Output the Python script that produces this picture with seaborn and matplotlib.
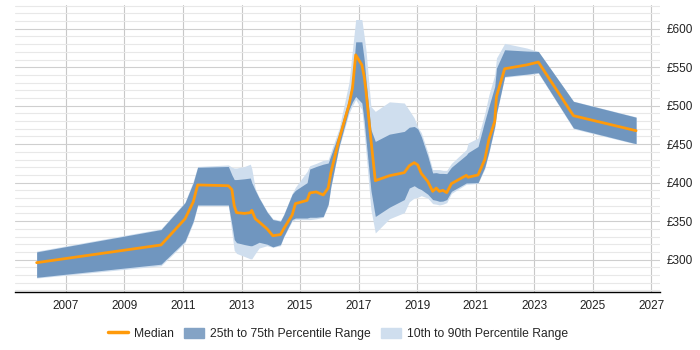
import pandas as pd
import matplotlib
matplotlib.use("Agg")
import matplotlib.pyplot as plt
import seaborn as sns
from matplotlib.lines import Line2D
from matplotlib.patches import Patch
from matplotlib.ticker import MultipleLocator, FuncFormatter

# values (year, then GBP per day)
years = [2006.0, 2010.25, 2011.07, 2011.35, 2011.5, 2012.55, 2012.67, 2012.75, 2012.83, 2013.1,
         2013.3, 2013.35, 2013.47, 2013.6, 2013.87, 2014.07, 2014.33, 2014.44, 2014.73, 2014.84,
         2015.24, 2015.33, 2015.55, 2015.79, 2015.96, 2016.05, 2016.33, 2016.67, 2016.79, 2016.9,
         2017.11, 2017.19, 2017.25, 2017.42, 2017.57, 2018.05, 2018.56, 2018.73, 2018.9, 2019.02,
         2019.14, 2019.36, 2019.53, 2019.65, 2019.76, 2019.88, 2020.01, 2020.17, 2020.68, 2020.74,
         2021.08, 2021.31, 2021.45, 2021.65, 2021.71, 2021.99, 2022.74, 2023.14, 2024.34, 2026.48]
median = [296, 319, 353, 375, 397, 396, 391, 370, 361, 360,
          361, 364, 353, 349, 340, 331, 332.5, 340, 358, 372.7,
          377, 386.6, 388, 384, 393, 412.6, 456, 501, 523, 566,
          553, 538, 520, 456, 402.6, 409, 413, 422, 426, 423,
          412, 401.7, 388.7, 393, 388.7, 390, 387, 398.7, 409.5, 407,
          410, 430, 456, 479.6, 512, 548, 553, 556.7, 487, 467.5]
p25 = [277, 294, 324, 350, 371, 371, 345, 326, 322, 319.5,
       318, 318, 320, 322.5, 320, 316.5, 319.5, 330, 352, 354,
       354, 355, 355, 356, 372, 395, 447, 494.8, 505, 512,
       503.5, 480, 456, 390, 356, 368, 378, 393, 396, 393,
       391, 385, 378, 377, 375.7, 376, 378, 388.7, 399.6, 399.6,
       400, 420, 440, 473, 490, 538, 541, 543, 471, 450.6]
p75 = [310, 339, 374, 400, 420, 421, 410, 404, 404, 405,
       406, 400, 390, 380, 362, 352, 350, 358, 385, 390,
       400, 417.7, 421, 424, 425.5, 435, 464.5, 510, 533.8, 583,
       583, 560, 534, 469, 453.6, 463, 466.6, 472, 473, 470,
       460, 435, 412.6, 413, 412, 412, 411.7, 420, 436, 439,
       447, 480, 499, 525, 549, 572.7, 571, 570.5, 505.6, 485]
p10 = [276, 292, 322, 348, 370, 370, 335, 312, 308, 304,
       301, 301, 308, 315, 318, 316, 318, 329, 350, 352,
       352, 352, 353, 355, 370, 393, 445, 490, 500, 508,
       495, 465, 440, 365, 334.6, 353, 361, 375, 380, 381,
       383, 380, 372.7, 372, 371, 372, 374, 386, 398, 398,
       399, 418, 438, 471, 488, 537, 540, 542, 470, 450]
p90 = [311, 340, 375, 402, 421, 423, 420, 419, 419, 421,
       424, 418, 392, 381, 363, 353, 351, 359, 386, 394,
       414.7, 422, 425, 429, 430, 440, 470, 530, 572.7, 612,
       612, 590, 572.7, 499, 492.6, 505, 503.5, 494, 484, 472,
       465, 440, 417, 417, 417, 416, 416, 425, 443, 451.5,
       458, 490, 514, 540, 562, 581, 575, 570.5, 506, 485.5]

df = pd.DataFrame({"year": years, "median": median, "p25": p25, "p75": p75,
                   "p10": p10, "p90": p90})

sns.set_style("white")
plt.rcParams['font.family'] = ['Liberation Sans', 'DejaVu Sans']

dark = '#7096bf'
light = '#cfdeee'
orange = '#ff9a0a'

fig = plt.figure(figsize=(7, 3.5), dpi=100)
ax = fig.add_axes([0.021, 0.166, 0.922, 0.82])

ax.fill_between(df.year, df.p10, df.p90, color=light, lw=0, zorder=2)
ax.fill_between(df.year, df.p25, df.p75, color=dark, lw=0, zorder=3)
sns.lineplot(data=df, x="year", y="median", color=orange, lw=2, ax=ax, zorder=4)

ax.set_xlim(2005.25, 2027.3)
ax.set_ylim(258, 631)
ax.set_xticks(range(2007, 2028, 2))
ax.yaxis.set_major_locator(MultipleLocator(50))
ax.yaxis.set_minor_locator(MultipleLocator(10))
ax.yaxis.set_major_formatter(FuncFormatter(lambda v, p: f"£{int(v)}"))
ax.yaxis.tick_right()
ax.tick_params(axis='x', length=3, color='#999999', labelsize=8.5, labelcolor='#222222', pad=3)
ax.tick_params(axis='y', length=0, labelsize=8.5, labelcolor='#222222', pad=5)
ax.tick_params(axis='y', which='minor', length=0)

ax.grid(True, axis='x', color='#c8c8c8', lw=0.8, zorder=0)
ax.grid(True, axis='y', which='major', color='#cfcfcf', lw=0.8, zorder=0)
ax.grid(True, axis='y', which='minor', color='#e8e8e8', lw=0.8, zorder=0)
ax.set_axisbelow(True)

for s in ['top', 'right', 'left']:
    ax.spines[s].set_visible(False)
ax.spines['bottom'].set_color('#000000')
ax.spines['bottom'].set_linewidth(1)

ax.set_xlabel("")
ax.set_ylabel("")

handles = [Line2D([0], [0], color=orange, lw=2.5),
           Patch(color='#84a3c5'),
           Patch(color=light)]
labels = ["Median", "25th to 75th Percentile Range", "10th to 90th Percentile Range"]
fig.legend(handles, labels, loc='center', bbox_to_anchor=(0.483, 0.046), ncol=3,
           frameon=False, fontsize=8.7, handlelength=1.6, handleheight=1.0,
           columnspacing=0.9, handletextpad=0.5)

fig.savefig("out.png", dpi=100)
